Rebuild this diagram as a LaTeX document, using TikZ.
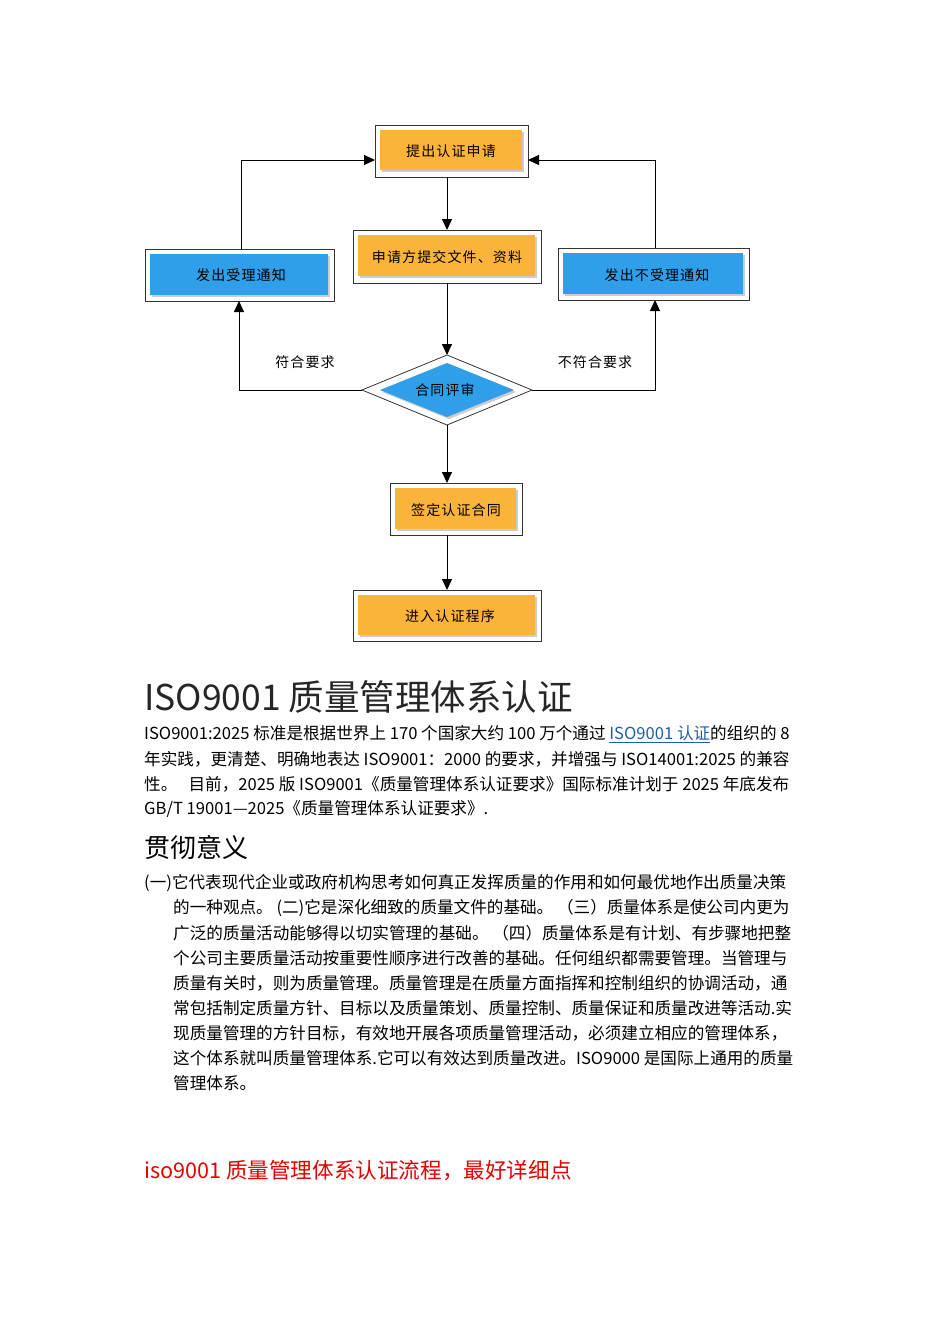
\documentclass[tikz,border=0pt]{standalone}
\usepackage{fontspec}
\setmainfont{Noto Sans CJK SC}
\usetikzlibrary{arrows.meta,shadows}
\definecolor{org}{HTML}{FBB33A}
\definecolor{blu}{HTML}{2E9FE8}
\definecolor{lnk}{HTML}{1F5FAA}
\begin{document}
\begin{tikzpicture}[x=1pt,y=-1pt,
 outer/.style={draw=black!80,line width=0.8pt,fill=white},
 inner/.style={fill=#1,drop shadow={shadow xshift=2pt,shadow yshift=-2pt,opacity=0.4}},
 lbl/.style={font=\fontsize{14}{14}\selectfont\addfontfeatures{LetterSpace=8}},
 arr/.style={-{Triangle[length=11pt,width=10pt]},line width=0.8pt},
 body/.style={anchor=west,inner sep=0pt,font=\fontsize{16.6}{16.6}\selectfont}]
\useasboundingbox (0,0) rectangle (950,1344);
% boxes
\draw[outer] (375,125) rectangle (528,177);
\fill[inner=org] (380,130) rectangle (522,170);
\node[lbl] (a) at (451,151) {提出认证申请};
\coordinate (aW) at (375,160); \coordinate (aE) at (528,160);
\draw[outer] (353,230) rectangle (541,283);
\fill[inner=org] (358,235) rectangle (535,276);
\node[lbl] (b) at (447,257) {申请方提交文件、资料};
\draw[outer] (145,249) rectangle (334,301);
\fill[inner=blu] (150,254) rectangle (328,295);
\node[lbl] (l) at (241,275) {发出受理通知};
\draw[outer] (558,248) rectangle (749,300);
\fill[inner=blu] (563,253) rectangle (743,294);
\node[lbl] (r) at (657,275) {发出不受理通知};
\draw[outer] (362,390) -- (447,355) -- (532,390) -- (447,425) -- cycle;
\fill[inner=blu] (380,390) -- (447,363) -- (514,390) -- (447,417) -- cycle;
\node[lbl] (d) at (445,390) {合同评审};
\coordinate (dN) at (447,355); \coordinate (dS) at (447,425);
\coordinate (dW) at (362,390); \coordinate (dE) at (532,390);
\draw[outer] (390,483) rectangle (522,535);
\fill[inner=org] (395,488) rectangle (516,529);
\node[lbl] (e) at (456,510) {签定认证合同};
\draw[outer] (353,590) rectangle (541,641);
\fill[inner=org] (358,595) rectangle (535,635);
\node[lbl] (f) at (450,616) {进入认证程序};
% connectors
\draw[arr] (447,177) -- (447,230);
\draw[arr] (447,283) -- (dN);
\draw[arr] (dS) -- (447,483);
\draw[arr] (447,535) -- (447,590);
\draw[arr] (241,249) -- (241,160) -- (aW);
\draw[arr] (655,248) -- (655,160) -- (aE);
\draw[arr] (dW) -- (239,390) -- (239,301);
\draw[arr] (dE) -- (655,390) -- (655,300);
\node[lbl] at (305,362) {符合要求};
\node[lbl] at (595,362) {不符合要求};
% text
\node[body,font=\fontsize{35.5}{35.5}\selectfont,text=black!85] (t1) at (144,697) {ISO9001 质量管理体系认证};
\node[body] (p1) at (144,734) {ISO9001:2025 标准是根据世界上 170 个国家大约 100 万个通过 \textcolor{lnk}{\underline{ISO9001 认证}}的组织的 8};
\node[body] (p2) at (144,759) {年实践，更清楚、明确地表达 ISO9001：2000 的要求，并增强与 ISO14001:2025 的兼容};
\node[body] (p3) at (144,784) {性。\ \ \ 目前，2025 版 ISO9001《质量管理体系认证要求》国际标准计划于 2025 年底发布};
\node[body] (p4) at (144,809) {GB/T 19001—2025《质量管理体系认证要求》.};
\node[body,font=\fontsize{26}{26}\selectfont] (t2) at (144,847) {贯彻意义};
\node[body] (q1) at (144,883) {(一)它代表现代企业或政府机构思考如何真正发挥质量的作用和如何最优地作出质量决策};
\node[body] (q2) at (173,908) {的一种观点。 (二)它是深化细致的质量文件的基础。 （三）质量体系是使公司内更为};
\node[body] (q3) at (173,933) {广泛的质量活动能够得以切实管理的基础。 （四）质量体系是有计划、有步骤地把整};
\node[body] (q4) at (173,958) {个公司主要质量活动按重要性顺序进行改善的基础。任何组织都需要管理。当管理与};
\node[body] (q5) at (173,983) {质量有关时，则为质量管理。质量管理是在质量方面指挥和控制组织的协调活动，通};
\node[body] (q6) at (173,1008) {常包括制定质量方针、目标以及质量策划、质量控制、质量保证和质量改进等活动.实};
\node[body] (q7) at (173,1033) {现质量管理的方针目标，有效地开展各项质量管理活动，必须建立相应的管理体系，};
\node[body] (q8) at (173,1058) {这个体系就叫质量管理体系.它可以有效达到质量改进。ISO9000 是国际上通用的质量};
\node[body] (q9) at (173,1083) {管理体系。};
\node[body,font=\fontsize{21.6}{21.6}\selectfont,text=red!90!black] (t3) at (144,1171) {iso9001 质量管理体系认证流程，最好详细点};
\end{tikzpicture}
\end{document}
